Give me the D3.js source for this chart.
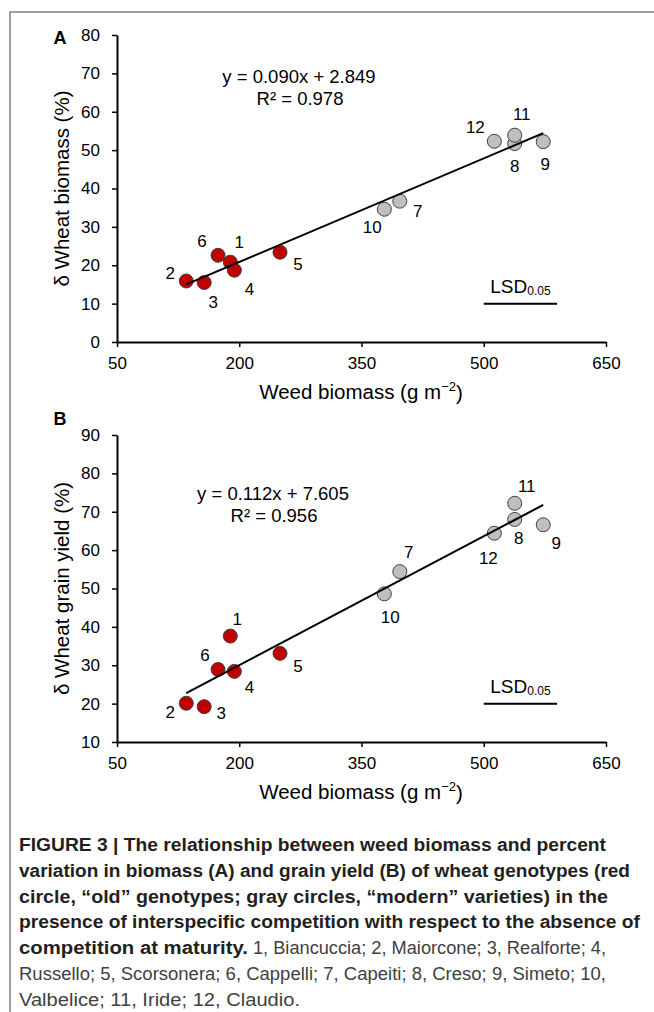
<!DOCTYPE html>
<html>
<head>
<meta charset="utf-8">
<script src="https://cdn.jsdelivr.net/npm/d3@7"></script>
<style>
  body { margin: 0; background: #fff; }
  svg text { font-family: "Liberation Sans", Arial, sans-serif; }
</style>
</head>
<body>
<div id="view-container"></div>
<script>
// ************** data *****************
var genotypes = [1, 2, 3, 4, 5, 6, 7, 8, 9, 10, 11, 12];
var isOld = [true, true, true, true, true, true, false, false, false, false, false, false];
var weedBiomass = [189, 135, 157, 194, 250, 174, 397, 538, 573, 378, 538, 513];
var wheatBiomass = [20.8, 15.9, 15.5, 18.7, 23.4, 22.6, 36.7, 51.7, 52.2, 34.6, 53.9, 52.3];
var grainYield = [37.6, 20.1, 19.2, 28.4, 33.1, 28.9, 54.4, 68.0, 66.6, 48.6, 72.2, 64.4];

var xTicks = [50, 200, 350, 500, 650];
var yTicksA = [0, 10, 20, 30, 40, 50, 60, 70, 80];
var yTicksB = [10, 20, 30, 40, 50, 60, 70, 80, 90];

var slopes = [0.090, 0.112];
var intercepts = [2.849, 7.605];
var rSquared = ["0.978", "0.956"];
var lsdRange = [500, 590];
var lsdLevel = [10, 20];

// label offsets (px) for the genotype numbers
var labelOffA = [[9,-20],[-16,-8],[9,20],[15,19],[18,12],[-16,-14],[18,10],[0,22],[2,22],[-12,18],[7,-21],[-19,-14]];
var labelOffB = [[7,-17],[-16,9],[17,6],[15,16],[18,13],[-13,-14],[9,-20],[4,19],[13,18],[6,23],[12,-17],[-6,25]];

//colors
var redFill = "#c00000", grayFill = "#bfbfbf";

var svg = d3.select("#view-container").append("svg")
  .attr("width", 654)
  .attr("height", 1012);

// frame
svg.append("path")
  .attr("d", "M10,1012 L10,12 L654,12")
  .attr("fill", "none")
  .attr("stroke", "#808080")
  .attr("stroke-width", 1.5);

var x = d3.scaleLinear().domain([50, 650]).range([117, 606]);

function drawPanel(cfg) {
  var y = d3.scaleLinear().domain(cfg.yDomain).range(cfg.yRange);
  var g = svg.append("g");

  var yAxis = g.append("g")
    .attr("transform", "translate(117,0)")
    .call(d3.axisLeft(y).tickValues(cfg.yTicks).tickSize(5).tickPadding(12).tickSizeOuter(0));
  var xAxis = g.append("g")
    .attr("transform", "translate(0," + cfg.yRange[0] + ")")
    .call(d3.axisBottom(x).tickValues(xTicks).tickSize(5).tickPadding(10).tickSizeOuter(0));

  [yAxis, xAxis].forEach(function(a) {
    a.select(".domain").attr("stroke", "#000").attr("stroke-width", 2);
    a.selectAll(".tick line").attr("stroke", "#000").attr("stroke-width", 1.5);
    a.selectAll(".tick text").attr("font-size", "17px").attr("fill", "#000")
      .style("font-family", "'Liberation Sans', Arial, sans-serif");
  });

  // panel letter
  g.append("text")
    .attr("x", 60).attr("y", cfg.letterY)
    .attr("dy", "0.35em")
    .attr("text-anchor", "middle")
    .attr("font-weight", "bold")
    .attr("font-size", "18px")
    .text(cfg.letter);

  // axis titles
  g.append("text")
    .attr("transform", "translate(62," + (cfg.yRange[0] + cfg.yRange[1]) / 2 + ") rotate(-90)")
    .attr("dy", "0.35em")
    .attr("text-anchor", "middle")
    .attr("font-size", "20.5px")
    .text(cfg.yTitle);

  var xt = g.append("text")
    .attr("x", 361).attr("y", cfg.yRange[0] + 50)
    .attr("dy", "0.35em")
    .attr("text-anchor", "middle")
    .attr("font-size", "20.5px");
  xt.append("tspan").text("Weed biomass (g m");
  xt.append("tspan").attr("font-size", "13px").attr("dy", "-0.65em").text("\u22122");
  xt.append("tspan").attr("dy", "0.45em").text(")");

  // points
  g.selectAll("circle")
    .data(genotypes)
    .enter()
    .append("circle")
    .attr("cx", function(d, i) { return x(weedBiomass[i]); })
    .attr("cy", function(d, i) { return y(cfg.values[i]); })
    .attr("r", 7)
    .attr("fill", function(d, i) { return isOld[i] ? redFill : grayFill; })
    .attr("stroke", "#404040")
    .attr("stroke-width", 1);

  // regression line
  var x0 = d3.min(weedBiomass), x1 = d3.max(weedBiomass);
  g.append("line")
    .attr("x1", x(x0)).attr("y1", y(cfg.slope * x0 + cfg.intercept))
    .attr("x2", x(x1)).attr("y2", y(cfg.slope * x1 + cfg.intercept))
    .attr("stroke", "#000")
    .attr("stroke-width", 2);

  // genotype labels
  g.selectAll("text.lab")
    .data(genotypes)
    .enter()
    .append("text")
    .attr("class", "lab")
    .attr("x", function(d, i) { return x(weedBiomass[i]) + cfg.offsets[i][0]; })
    .attr("y", function(d, i) { return y(cfg.values[i]) + cfg.offsets[i][1]; })
    .attr("dy", "0.35em")
    .attr("text-anchor", "middle")
    .attr("font-size", "17px")
    .text(function(d) { return d; });

  // equation
  g.append("text")
    .attr("x", cfg.eqX).attr("y", cfg.eqY)
    .attr("dy", "0.35em")
    .attr("text-anchor", "middle")
    .attr("font-size", "18.5px")
    .text("y = " + cfg.slope.toFixed(3) + "x + " + cfg.intercept.toFixed(3));
  g.append("text")
    .attr("x", cfg.eqX + 1).attr("y", cfg.eqY + 22)
    .attr("dy", "0.35em")
    .attr("text-anchor", "middle")
    .attr("font-size", "18.5px")
    .text("R\u00b2 = " + cfg.r2);

  // LSD bar
  g.append("line")
    .attr("x1", x(lsdRange[0])).attr("x2", x(lsdRange[1]))
    .attr("y1", y(cfg.lsd)).attr("y2", y(cfg.lsd))
    .attr("stroke", "#000")
    .attr("stroke-width", 2);
  var lt = g.append("text")
    .attr("x", (x(lsdRange[0]) + x(lsdRange[1])) / 2)
    .attr("y", y(cfg.lsd) - 11)
    .attr("text-anchor", "middle")
    .attr("font-size", "19px");
  lt.append("tspan").text("LSD");
  lt.append("tspan").attr("font-size", "12px").attr("dy", "0.2em").text("0.05");
}

drawPanel({letter: "A", letterY: 38, yDomain: [0, 80], yRange: [342, 35], yTicks: yTicksA,
  values: wheatBiomass, slope: slopes[0], intercept: intercepts[0], r2: rSquared[0],
  yTitle: "\u03b4 Wheat biomass (%)", offsets: labelOffA, eqX: 299, eqY: 77, lsd: lsdLevel[0]});

drawPanel({letter: "B", letterY: 419, yDomain: [10, 90], yRange: [742, 435], yTicks: yTicksB,
  values: grainYield, slope: slopes[1], intercept: intercepts[1], r2: rSquared[1],
  yTitle: "\u03b4 Wheat grain yield (%)", offsets: labelOffB, eqX: 273, eqY: 494, lsd: lsdLevel[1]});

// ************** caption *****************
var captionLines = [
  {bold: "FIGURE 3 | The relationship between weed biomass and percent", end: 606},
  {bold: "variation in biomass (A) and grain yield (B) of wheat genotypes (red", end: 630},
  {bold: "circle, \u201cold\u201d genotypes; gray circles, \u201cmodern\u201d varieties) in the", end: 608},
  {bold: "presence of interspecific competition with respect to the absence of", end: 640},
  {bold: "competition at maturity.", end: 248, rest: "1, Biancuccia; 2, Maiorcone; 3, Realforte; 4,", restStart: 253, restEnd: 606},
  {rest: "Russello; 5, Scorsonera; 6, Cappelli; 7, Capeiti; 8, Creso; 9, Simeto; 10,", restStart: 19, restEnd: 606},
  {rest: "Valbelice; 11, Iride; 12, Claudio.", restStart: 19, restEnd: 300}
];

captionLines.forEach(function(l, i) {
  var yy = 851 + i * 25.8;
  if (l.bold) {
    svg.append("text")
      .attr("x", 19).attr("y", yy)
      .attr("font-size", "17.5px")
      .attr("font-weight", "bold")
      .attr("fill", "#231f20")
      .attr("textLength", l.end - 19)
      .attr("lengthAdjust", "spacingAndGlyphs")
      .text(l.bold);
  }
  if (l.rest) {
    svg.append("text")
      .attr("x", l.restStart).attr("y", yy)
      .attr("font-size", "17.5px")
      .attr("fill", "#404040")
      .attr("textLength", l.restEnd - l.restStart)
      .attr("lengthAdjust", "spacingAndGlyphs")
      .text(l.rest);
  }
});
</script>
</body>
</html>
